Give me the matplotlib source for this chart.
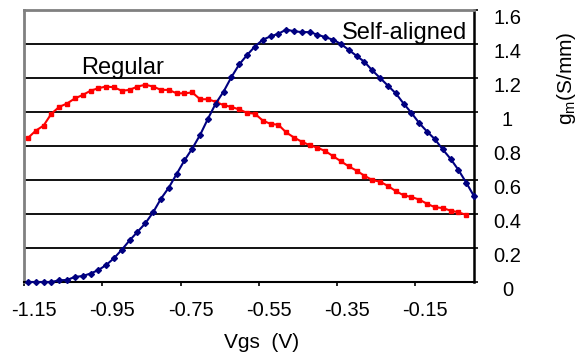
import matplotlib
matplotlib.use("Agg")
import matplotlib.pyplot as plt
import matplotlib.transforms as mtrans

plt.rcParams['font.family'] = ['Liberation Sans', 'DejaVu Sans']
plt.rcParams['mathtext.default'] = 'regular'

# Regular device: Vgs (V) vs gm (S/mm)
vgs_regular = [-1.14, -1.12, -1.10, -1.08, -1.06, -1.04, -1.02, -1.00, -0.98, -0.96,
               -0.94, -0.92, -0.90, -0.88, -0.86, -0.84, -0.82, -0.80, -0.78, -0.76,
               -0.74, -0.72, -0.70, -0.68, -0.66, -0.64, -0.62, -0.60, -0.58, -0.56,
               -0.54, -0.52, -0.50, -0.48, -0.46, -0.44, -0.42, -0.40, -0.38, -0.36,
               -0.34, -0.32, -0.30, -0.28, -0.26, -0.24, -0.22, -0.20, -0.18, -0.16,
               -0.14, -0.12, -0.10, -0.08, -0.06, -0.04, -0.02]
gm_regular = [0.847, 0.89, 0.92, 0.99, 1.03, 1.05, 1.08, 1.10, 1.125, 1.14,
              1.15, 1.145, 1.125, 1.13, 1.15, 1.16, 1.15, 1.13, 1.13, 1.11,
              1.11, 1.115, 1.075, 1.075, 1.06, 1.04, 1.03, 1.015, 0.995, 0.99,
              0.95, 0.93, 0.925, 0.88, 0.85, 0.825, 0.805, 0.79, 0.77, 0.74,
              0.71, 0.68, 0.655, 0.625, 0.60, 0.59, 0.565, 0.535, 0.51, 0.50,
              0.485, 0.46, 0.44, 0.435, 0.42, 0.41, 0.395]

# Self-aligned device
vgs_self = [-1.14, -1.12, -1.10, -1.08, -1.06, -1.04, -1.02, -1.00, -0.98, -0.96,
            -0.94, -0.92, -0.90, -0.88, -0.86, -0.84, -0.82, -0.80, -0.78, -0.76,
            -0.74, -0.72, -0.70, -0.68, -0.66, -0.64, -0.62, -0.60, -0.58, -0.56,
            -0.54, -0.52, -0.50, -0.48, -0.46, -0.44, -0.42, -0.40, -0.38, -0.36,
            -0.34, -0.32, -0.30, -0.28, -0.26, -0.24, -0.22, -0.20, -0.18, -0.16,
            -0.14, -0.12, -0.10, -0.08, -0.06, -0.04, -0.02, 0.00]
gm_self = [0.0, 0.0, 0.0, 0.0, 0.01, 0.012, 0.03, 0.035, 0.05, 0.07,
           0.10, 0.14, 0.19, 0.245, 0.295, 0.345, 0.41, 0.49, 0.555, 0.635,
           0.715, 0.785, 0.865, 0.96, 1.05, 1.12, 1.205, 1.28, 1.335, 1.385,
           1.425, 1.445, 1.46, 1.485, 1.475, 1.47, 1.47, 1.455, 1.44, 1.425,
           1.40, 1.365, 1.33, 1.295, 1.245, 1.20, 1.155, 1.11, 1.05, 0.995,
           0.935, 0.885, 0.84, 0.78, 0.725, 0.66, 0.585, 0.505]

xticks = [-1.15, -0.95, -0.75, -0.55, -0.35, -0.15]
yticks = [0, 0.2, 0.4, 0.6, 0.8, 1.0, 1.2, 1.4, 1.6]
ytick_labels = ['0', '0.2', '0.4', '0.6', '0.8', '1', '1.2', '1.4', '1.6']

fig = plt.figure(figsize=(5.76, 3.57), dpi=100)
ax = fig.add_axes([24 / 576, 1 - 282 / 357, 450 / 576, 272 / 357])

for y in yticks[1:-1]:
    ax.axhline(y, color='#111111', lw=1.4, zorder=1)

ax.plot(vgs_regular, gm_regular, color='#ff0000', lw=1.5, marker='s', ms=3,
        zorder=3, clip_on=False)
ax.plot(vgs_self, gm_self, color='#000080', lw=1.5, marker='D', ms=3,
        zorder=4, clip_on=False)

ax.text(-0.897, 1.224, 'Regular', fontsize=17, ha='center', va='baseline')
ax.text(-0.178, 1.43, 'Self-aligned', fontsize=17, ha='center', va='baseline',
        zorder=5)

ax.set_xlim(-1.15, 0.0)
ax.set_ylim(0, 1.6)

ax.set_xticks(xticks)
ax.set_xticklabels(['%.2f' % v for v in xticks])
ax.tick_params(axis='x', direction='out', length=3, width=1.2, pad=11,
               labelsize=14.5, color='black')
dx = mtrans.ScaledTranslation(10 / 100, 0, fig.dpi_scale_trans)
for lab in ax.get_xticklabels():
    lab.set_transform(lab.get_transform() + dx)

ax.yaxis.tick_right()
ax.set_yticks(yticks)
ax.set_yticklabels(ytick_labels)
ax.tick_params(axis='y', direction='out', length=3, width=1.2, pad=21,
               labelsize=14.5, color='black')
dy = mtrans.ScaledTranslation(0, -6 / 100, fig.dpi_scale_trans)
for lab in ax.get_yticklabels():
    lab.set_horizontalalignment('center')
    lab.set_transform(lab.get_transform() + dy)

ax.set_xlabel('Vgs  (V)', fontsize=15)
ax.xaxis.set_label_coords((262 - 24) / 450, -(343 - 282) / 272)
ax.xaxis.label.set_verticalalignment('center')

fig.text(566 / 576, 1 - 78 / 357, 'g$_m$(S/mm)', rotation=90, fontsize=15,
         ha='center', va='center')

ax.spines['top'].set_color('#808080')
ax.spines['left'].set_color('#808080')
ax.spines['top'].set_linewidth(2)
ax.spines['left'].set_linewidth(2)
ax.spines['bottom'].set_color('black')
ax.spines['bottom'].set_linewidth(1.5)
ax.spines['right'].set_color('black')
ax.spines['right'].set_linewidth(1.8)

fig.savefig('out.png', dpi=100)
